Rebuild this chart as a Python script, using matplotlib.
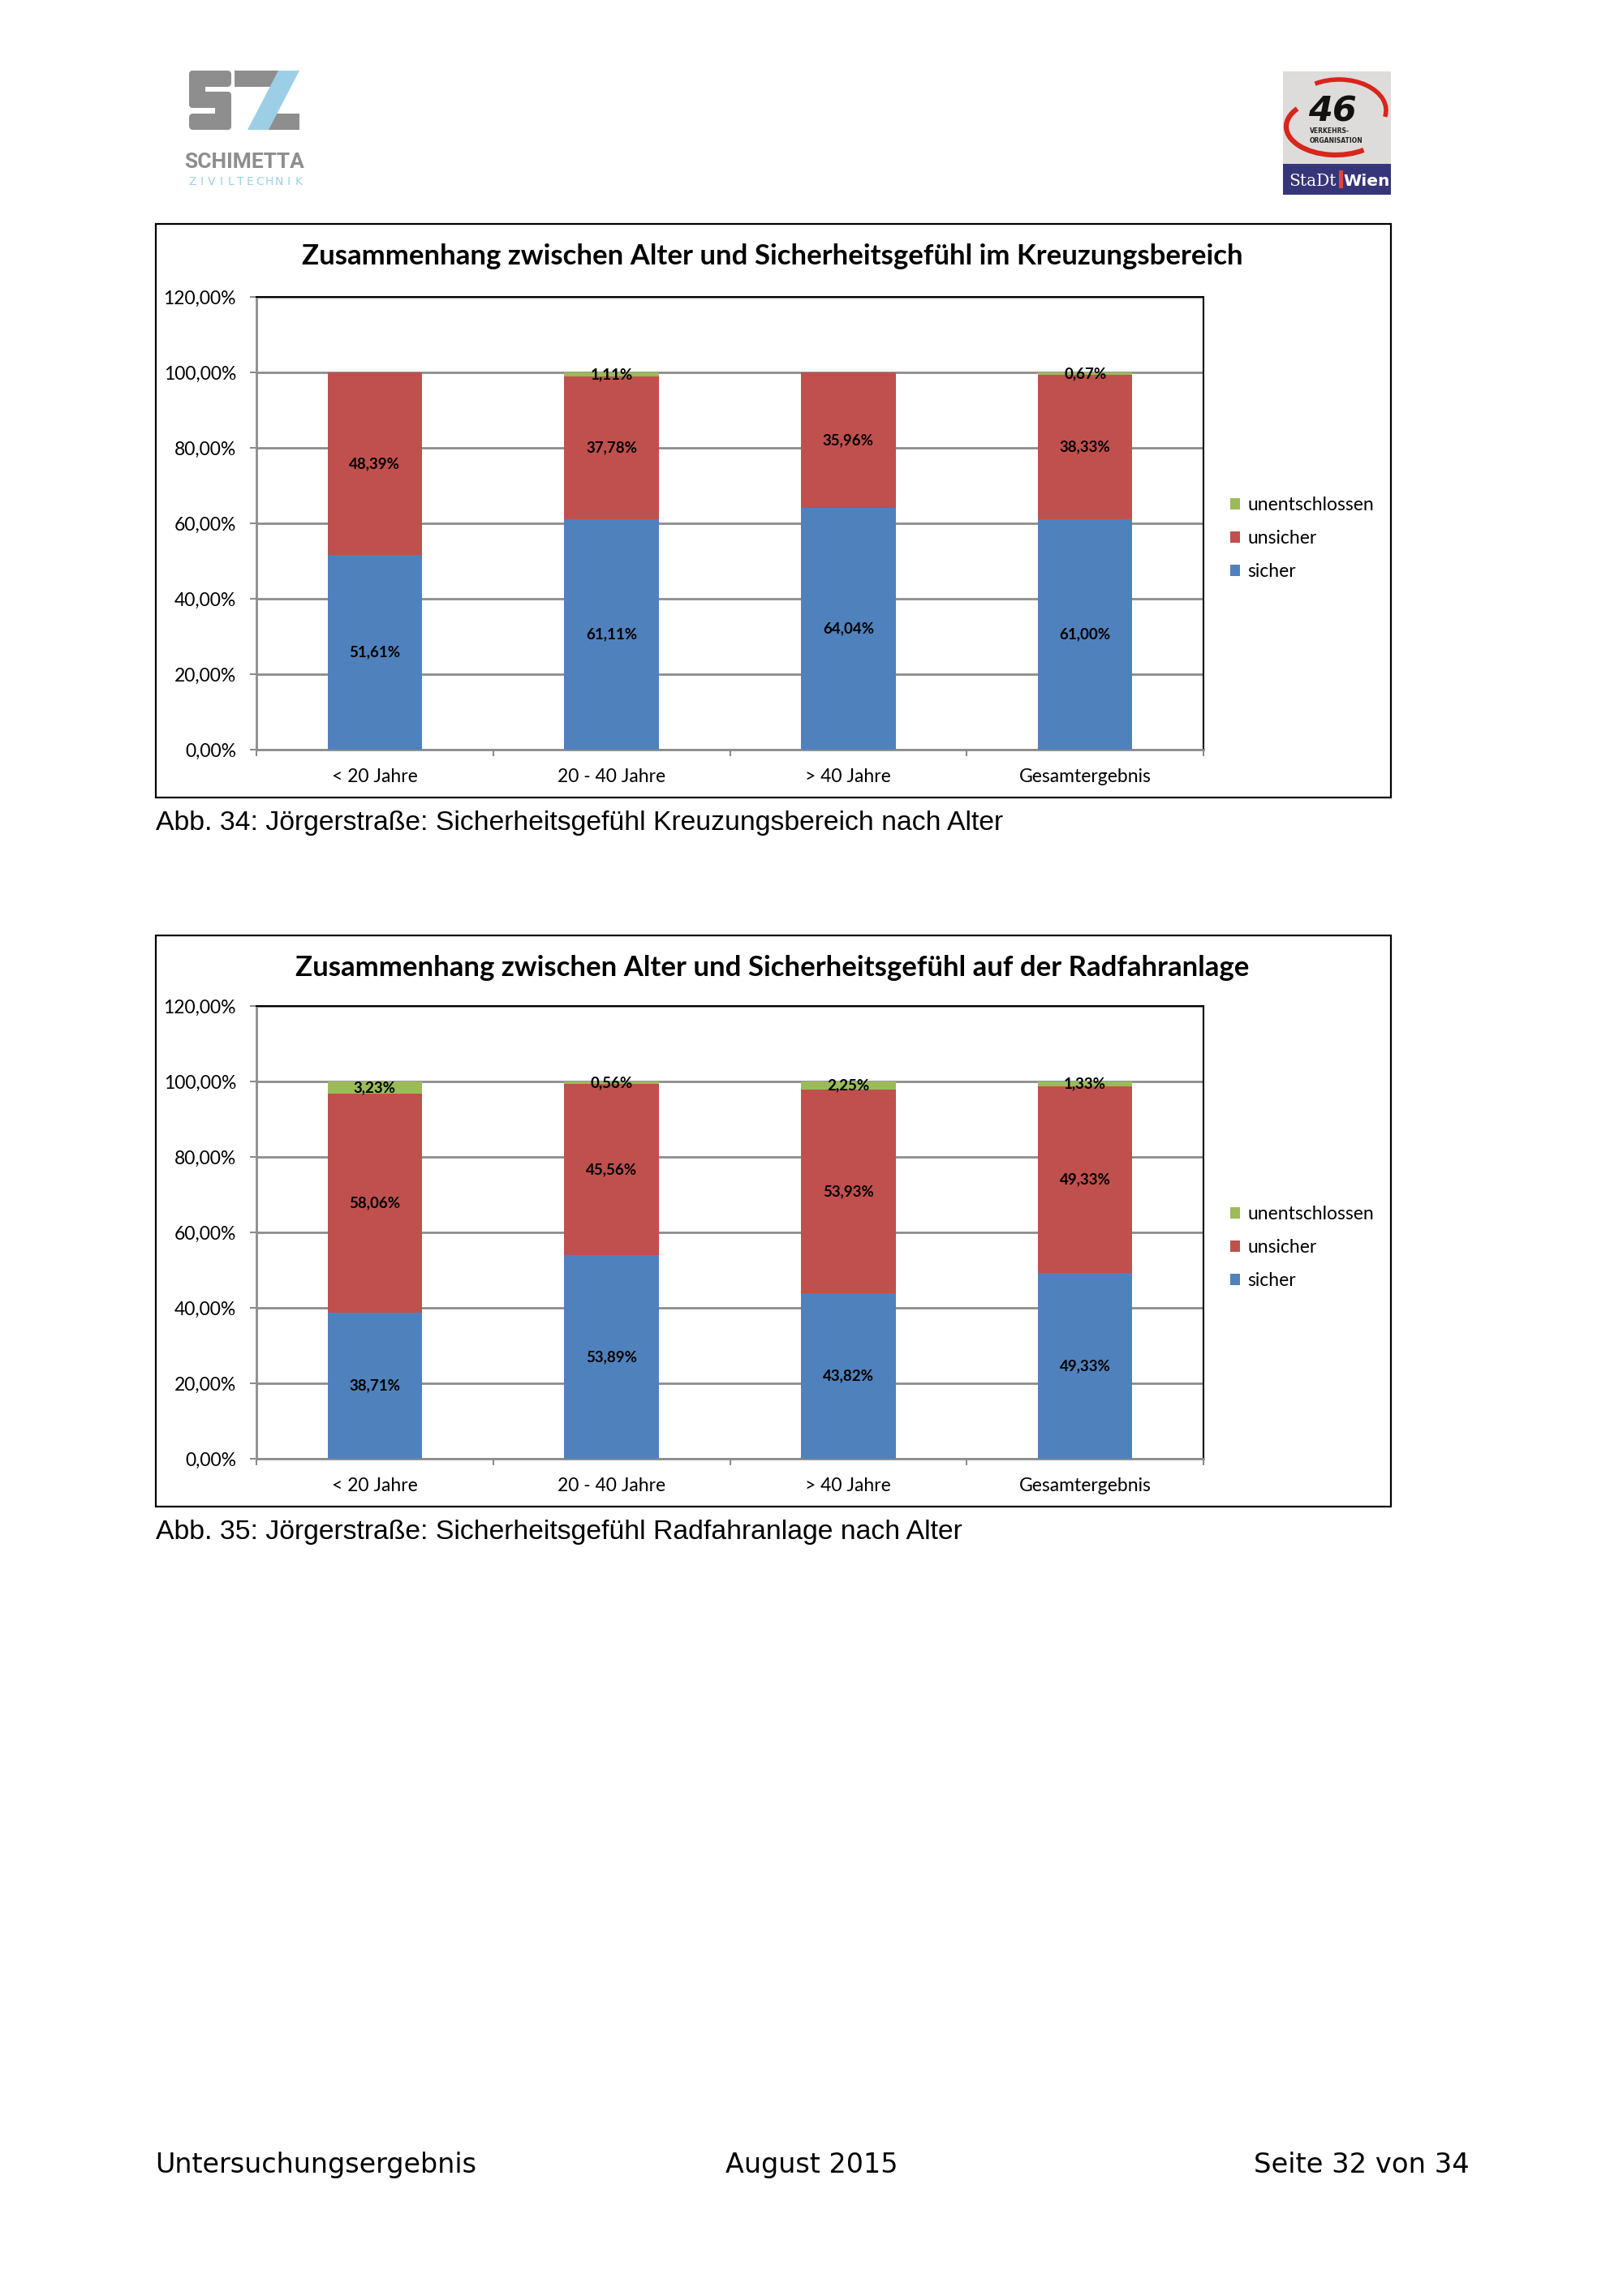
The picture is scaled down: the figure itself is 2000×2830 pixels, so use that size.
import numpy as np
import matplotlib
matplotlib.use("Agg")
import matplotlib.pyplot as plt
from matplotlib.patches import Rectangle, Polygon, Arc, FancyBboxPatch

# data
categories = ['< 20 Jahre', '20 - 40 Jahre', '> 40 Jahre', 'Gesamtergebnis']
series_names = ['sicher', 'unsicher', 'unentschlossen']
colors = ['#4F81BD', '#C0504D', '#9BBB59']

kreuzung_sicher = [51.61, 61.11, 64.04, 61.00]
kreuzung_unsicher = [48.39, 37.78, 35.96, 38.33]
kreuzung_unentschlossen = [0.0, 1.11, 0.0, 0.67]

radfahr_sicher = [38.71, 53.89, 43.82, 49.33]
radfahr_unsicher = [58.06, 45.56, 53.93, 49.33]
radfahr_unentschlossen = [3.23, 0.56, 2.25, 1.33]

y_ticks = [0, 20, 40, 60, 80, 100, 120]

title_1 = 'Zusammenhang zwischen Alter und Sicherheitsgefühl im Kreuzungsbereich'
title_2 = 'Zusammenhang zwischen Alter und Sicherheitsgefühl auf der Radfahranlage'
caption_1 = 'Abb. 34: Jörgerstraße: Sicherheitsgefühl Kreuzungsbereich nach Alter'
caption_2 = 'Abb. 35: Jörgerstraße: Sicherheitsgefühl Radfahranlage nach Alter'
footer = ['Untersuchungsergebnis', 'August 2015', 'Seite 32 von 34']

plt.rcParams['font.family'] = ['Lato', 'DejaVu Sans']

W, H = 2000, 2830
fig = plt.figure(figsize=(W / 100, H / 100), dpi=100)

# page layer in pixel coordinates (y down)
page = fig.add_axes([0, 0, 1, 1], zorder=0)
page.set_xlim(0, W)
page.set_ylim(H, 0)
page.axis('off')


def pct(v):
    return f'{v:.2f}%'.replace('.', ',')


def draw_chart(frame_top, frame_bottom, plot_top, plot_bottom, title, caption, series):
    page.add_patch(Rectangle((192, frame_top), 1714 - 192, frame_bottom - frame_top,
                             fill=False, ec='black', lw=1.6))
    page.text(952, frame_top + 50, title, ha='center', va='baseline',
              fontsize=25, fontweight='bold')
    page.text(192, frame_bottom + 40, caption, ha='left', va='baseline',
              fontsize=24.3, family='Liberation Sans')

    ax = fig.add_axes([316 / W, 1 - plot_bottom / H, (1483 - 316) / W,
                       (plot_bottom - plot_top) / H], zorder=1)
    x = np.arange(len(categories))
    bottom = np.zeros(len(categories))
    handles = []
    for vals, name, c in zip(series, series_names, colors):
        bars = ax.bar(x, vals, 0.4, bottom=bottom, color=c, label=name, zorder=3)
        ax.bar_label(bars, labels=[pct(v) if v > 0 else '' for v in vals],
                     label_type='center', fontsize=13.5, fontweight='bold')
        bottom += np.array(vals)
        handles.append(bars)

    ax.set_xlim(-0.5, len(categories) - 0.5)
    ax.set_ylim(0, 120)
    ax.set_yticks(y_ticks)
    ax.set_yticklabels([pct(t) for t in y_ticks])
    ax.yaxis.grid(True, color='#8c8c8c', lw=2, zorder=0)
    ax.set_axisbelow(True)

    ax.set_xticks(np.arange(-0.5, len(categories)))
    ax.set_xticklabels([])
    ax.set_xticks(x, minor=True)
    ax.set_xticklabels(categories, minor=True)
    ax.tick_params(axis='x', which='major', length=6, width=1.5, color='#8c8c8c')
    ax.tick_params(axis='x', which='minor', length=0, pad=16.5, labelsize=16.5)
    ax.tick_params(axis='y', length=6, width=1.5, color='#8c8c8c', pad=12, labelsize=16.5)

    for s in ['left', 'bottom']:
        ax.spines[s].set_color('#8c8c8c')
        ax.spines[s].set_linewidth(2)
    for s in ['top', 'right']:
        ax.spines[s].set_color('black')
        ax.spines[s].set_linewidth(1.5)

    ax.legend(handles[::-1], series_names[::-1], loc='center left',
              bbox_to_anchor=(1.028, 0.467), frameon=False, fontsize=16.5,
              handlelength=0.55, handleheight=0.55, handletextpad=0.4,
              labelspacing=0.88, borderpad=0, borderaxespad=0)
    return ax


draw_chart(276, 983, 366, 924, title_1, caption_1,
           [kreuzung_sicher, kreuzung_unsicher, kreuzung_unentschlossen])
draw_chart(1153, 1857, 1240, 1798, title_2, caption_2,
           [radfahr_sicher, radfahr_unsicher, radfahr_unentschlossen])

# footer
page.text(191, 2678, footer[0], ha='left', va='baseline', fontsize=24, family='DejaVu Sans')
page.text(1000, 2678, footer[1], ha='center', va='baseline', fontsize=24, family='DejaVu Sans')
page.text(1811, 2678, footer[2], ha='right', va='baseline', fontsize=24.3, family='DejaVu Sans')

# SZ logo (left header)
grey = '#8e8e8e'
sky = '#9ccfe6'
for (x0, y0, w, h) in [(233, 87, 52, 20), (233, 87, 20, 46), (233, 113, 52, 20),
                       (265, 113, 20, 47), (233, 140, 52, 20)]:
    page.add_patch(FancyBboxPatch((x0, y0), w, h, boxstyle='round,pad=0,rounding_size=5',
                                  fc=grey, ec='none'))
page.add_patch(Polygon([(289, 87), (345, 87), (335, 107), (289, 107)], fc=grey, ec='none'))
page.add_patch(Polygon([(325, 140), (369, 140), (369, 160), (315, 160)], fc=grey, ec='none'))
page.add_patch(Polygon([(343, 87), (369, 87), (331, 160), (305, 160)], fc=sky, ec='none'))
page.text(301, 207, 'SCHIMETTA', ha='center', va='baseline', fontsize=19,
          fontweight='bold', family='Roboto', color=grey)
for i, ch in enumerate('ZIVILTECHNIK'):
    page.text(237 + i * 11.9, 228, ch, ha='center', va='baseline', fontsize=10,
              family='DejaVu Sans', color=sky)

# Verkehrsorganisation / Stadt Wien logo (right header)
page.add_patch(Rectangle((1581, 88), 133, 114, fc='#dedcdb', ec='none'))
page.add_patch(Rectangle((1581, 202), 133, 38, fc='#37357a', ec='none'))
page.add_patch(Arc((1650, 136), 116, 76, theta1=228, theta2=368, color='#d8261c', lw=4))
page.add_patch(Arc((1646, 156), 122, 70, theta1=40, theta2=205, color='#d8261c', lw=4.5))
page.text(1642, 150, '46', ha='center', va='baseline', fontsize=31,
          fontweight='bold', style='italic', family='DejaVu Sans', color='#111111')
page.text(1614, 164, 'VERKEHRS-', ha='left', va='baseline', fontsize=5.5,
          fontweight='bold', family='DejaVu Sans', color='#222222')
page.text(1614, 176, 'ORGANISATION', ha='left', va='baseline', fontsize=5.5,
          fontweight='bold', family='DejaVu Sans', color='#222222')
page.text(1617, 229, 'StaDt', ha='center', va='baseline', fontsize=14.5,
          family='DejaVu Serif', color='white')
page.add_patch(Rectangle((1650, 210), 5, 22, fc='#e0463a', ec='none'))
page.text(1684, 229, 'Wien', ha='center', va='baseline', fontsize=14.5,
          fontweight='bold', family='DejaVu Sans', color='white')

fig.savefig('out.png', dpi=100)
